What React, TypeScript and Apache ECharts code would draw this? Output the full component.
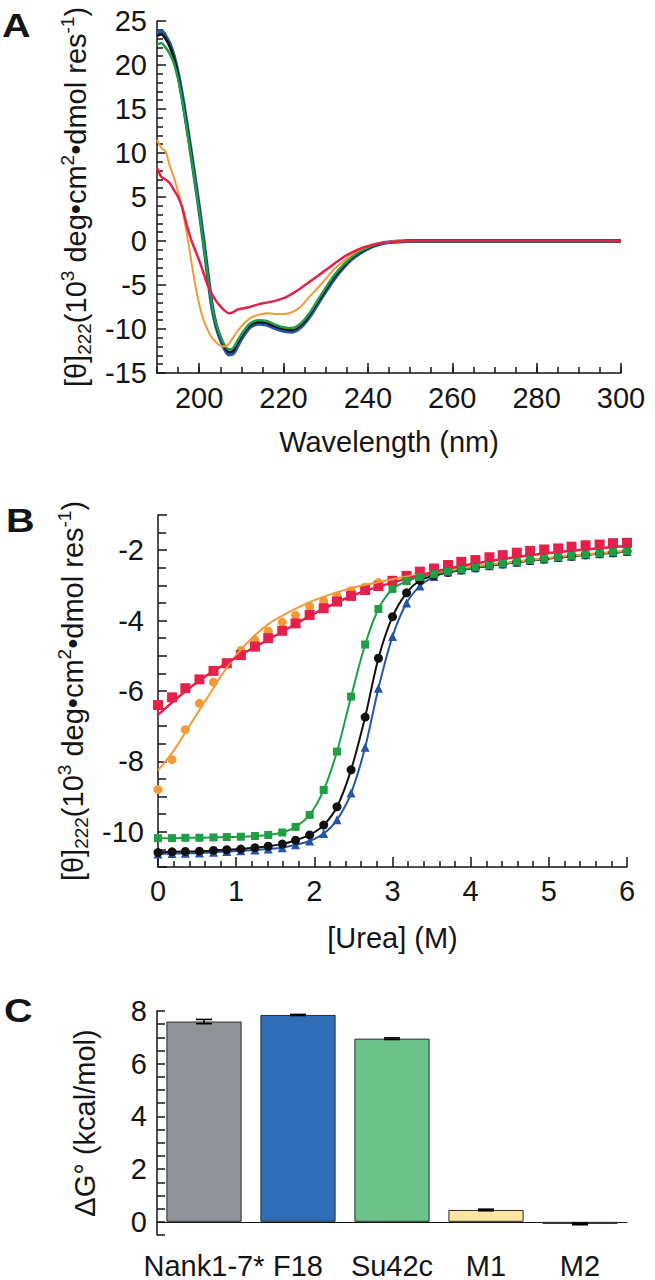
import React, { useEffect, useRef } from 'react';
import * as echarts from 'echarts';

const FONT = '"Liberation Sans", Arial, Helvetica, sans-serif';
const INK = '#151515';

// ---------- Panel A: CD spectra ----------
const wavelengthNm = [190, 191, 192, 193, 194, 195, 196, 197, 198, 199, 200, 201, 202, 203, 204, 205, 206, 207, 208, 209, 210, 212, 214, 216, 218, 220, 222, 224, 226, 228, 230, 232, 234, 236, 238, 240, 242, 244, 246, 248, 250, 260, 270, 280, 290, 300];
const cdBlue = [23.6, 23.9, 23.3, 22.4, 21.0, 19.0, 16.4, 13.4, 10.3, 7.0, 3.7, 0.1, -3.7, -7.3, -9.6, -11.1, -12.2, -12.9, -12.8, -12.0, -11.1, -9.8, -9.4, -9.5, -9.9, -10.2, -10.3, -9.8, -8.7, -7.2, -5.7, -4.3, -3.1, -2.1, -1.4, -0.85, -0.45, -0.2, -0.1, -0.05, 0, 0, 0, 0, 0, 0];
const cdBlack = [23.3, 23.5, 23.0, 22.1, 20.8, 18.8, 16.2, 13.3, 10.2, 6.9, 3.6, 0.0, -3.7, -7.2, -9.5, -10.9, -12.0, -12.6, -12.5, -11.7, -10.8, -9.6, -9.2, -9.3, -9.7, -10.0, -10.1, -9.6, -8.5, -7.0, -5.5, -4.1, -3.0, -2.0, -1.3, -0.8, -0.45, -0.2, -0.1, -0.05, 0, 0, 0, 0, 0, 0];
const cdGreen = [22.3, 22.5, 22.0, 21.3, 20.2, 18.4, 15.9, 13.0, 9.9, 6.7, 3.4, -0.2, -3.8, -7.2, -9.4, -10.8, -11.8, -12.3, -12.2, -11.4, -10.6, -9.4, -9.0, -9.1, -9.5, -9.8, -9.9, -9.4, -8.3, -6.8, -5.3, -3.9, -2.8, -1.9, -1.2, -0.75, -0.4, -0.2, -0.1, -0.05, 0, 0, 0, 0, 0, 0];
const cdOrange = [11.5, 10.6, 10.2, 8.6, 7.2, 5.6, 3.6, 1.0, -1.9, -4.8, -7.2, -8.9, -10.1, -11.0, -11.5, -11.9, -12.0, -11.7, -11.0, -10.3, -9.7, -8.8, -8.4, -8.2, -8.3, -8.3, -8.1, -7.5, -6.4, -5.4, -4.3, -3.2, -2.4, -1.6, -1.0, -0.6, -0.35, -0.15, -0.05, 0, 0, 0, 0, 0, 0, 0];
const cdRed = [8.3, 7.3, 7.0, 6.6, 5.8, 5.0, 3.8, 1.9, 0.3, -1.0, -2.2, -3.6, -5.0, -6.0, -6.8, -7.4, -7.9, -8.2, -8.1, -7.8, -7.7, -7.5, -7.2, -7.0, -6.8, -6.5, -6.0, -5.4, -4.7, -4.0, -3.3, -2.6, -1.9, -1.35, -0.9, -0.6, -0.35, -0.2, -0.1, -0.03, 0, 0, 0, 0, 0, 0];
const aXLabels = [200, 220, 240, 260, 280, 300];

// ---------- Panel B: urea denaturation ----------
const ureaM = [0, 0.18, 0.35, 0.53, 0.71, 0.88, 1.06, 1.24, 1.41, 1.59, 1.76, 1.94, 2.12, 2.29, 2.47, 2.65, 2.82, 3.0, 3.18, 3.35, 3.53, 3.71, 3.88, 4.06, 4.24, 4.41, 4.59, 4.76, 4.94, 5.12, 5.29, 5.47, 5.65, 5.82, 6.0];
const urRed = [-6.40, -6.18, -5.92, -5.67, -5.43, -5.21, -4.98, -4.74, -4.50, -4.29, -4.08, -3.84, -3.65, -3.46, -3.30, -3.13, -3.02, -2.87, -2.73, -2.61, -2.52, -2.42, -2.33, -2.28, -2.20, -2.14, -2.07, -2.02, -1.98, -1.95, -1.90, -1.86, -1.84, -1.80, -1.79];
const urOrange = [-8.80, -7.95, -7.10, -6.35, -5.75, -5.25, -4.85, -4.55, -4.30, -4.05, -3.85, -3.60, -3.45, -3.30, -3.15, -3.05, -2.92, -2.85, -2.80, -2.74, -2.67, -2.60, -2.53, -2.47, -2.41, -2.36, -2.31, -2.26, -2.22, -2.18, -2.14, -2.10, -2.07, -2.04, -2.01];
const urGreen = [-10.18, -10.18, -10.17, -10.17, -10.16, -10.15, -10.14, -10.12, -10.09, -10.02, -9.86, -9.52, -8.81, -7.72, -6.16, -4.68, -3.67, -3.10, -2.88, -2.76, -2.68, -2.61, -2.55, -2.49, -2.43, -2.38, -2.33, -2.28, -2.24, -2.20, -2.16, -2.12, -2.09, -2.06, -2.03];
const urBlack = [-10.59, -10.57, -10.56, -10.55, -10.53, -10.51, -10.49, -10.45, -10.41, -10.35, -10.24, -10.09, -9.81, -9.29, -8.24, -6.74, -5.07, -3.89, -3.21, -2.86, -2.72, -2.63, -2.56, -2.50, -2.44, -2.39, -2.34, -2.29, -2.25, -2.21, -2.17, -2.13, -2.10, -2.07, -2.04];
const urBlue = [-10.63, -10.62, -10.61, -10.60, -10.58, -10.56, -10.54, -10.52, -10.49, -10.45, -10.37, -10.26, -10.05, -9.66, -8.90, -7.60, -5.92, -4.45, -3.50, -3.02, -2.75, -2.62, -2.56, -2.50, -2.44, -2.39, -2.34, -2.29, -2.25, -2.21, -2.17, -2.13, -2.10, -2.07, -2.04];
const orangeFitUrea = [0, 0.2, 0.4, 0.6, 0.8, 1.0, 1.2, 1.4, 1.6, 1.8, 2.0, 2.4, 2.8, 3.2, 3.6, 4.0, 4.5, 5.0, 5.5, 6.0];
const orangeFit = [-8.25, -7.7, -7.0, -6.3, -5.6, -4.98, -4.5, -4.12, -3.85, -3.62, -3.42, -3.12, -2.92, -2.74, -2.6, -2.47, -2.34, -2.22, -2.11, -2.02];
const redFitUrea = [0, 0.5, 1, 1.5, 2, 2.5, 3, 3.5, 4, 4.5, 5, 5.5, 6];
const redFit = [-6.68, -5.75, -5.05, -4.43, -3.8, -3.28, -2.92, -2.63, -2.4, -2.22, -2.08, -1.97, -1.88];

// ---------- Panel C: stability ----------
const proteins = ['Nank1-7*', 'F18', 'Su42c', 'M1', 'M2'];
const dG = [7.6, 7.85, 6.95, 0.45, -0.08];
const dGErr = [0.08, 0.02, 0.03, 0.03, 0.03];
const barColors = ['#8f9297', '#2f6db6', '#6cc28b', '#fde5a2', '#c9736e'];

const C_BLUE = '#2356a8';
const C_BLACK = '#111111';
const C_GREEN = '#1f9e45';
const C_ORANGE = '#f29a38';
const C_RED = '#e5204b';

const FS = 29;
const tickLabel = { fontFamily: FONT, fontSize: FS, color: INK };
const axisLine = { show: true, onZero: false, lineStyle: { color: INK, width: 1.5 } };

const thetaName = '{t|[θ]}{sub|222}{t|(10}{sup|3}{t| deg•cm}{sup|2}{t|•dmol res}{sup|-1}{t|)}';
const thetaStyle = {
  fontFamily: FONT,
  fontSize: FS,
  color: INK,
  rich: {
    t: { fontFamily: FONT, fontSize: FS, lineHeight: 36, color: INK },
    sub: { fontFamily: FONT, fontSize: 19, lineHeight: 20, verticalAlign: 'bottom', color: INK },
    sup: { fontFamily: FONT, fontSize: 19, lineHeight: 20, verticalAlign: 'top', color: INK },
  },
};

function pairs(xs: number[], ys: number[]) {
  return xs.map((x, i) => [x, ys[i]]);
}

export default function App() {
  const ref = useRef<HTMLDivElement>(null);
  useEffect(() => {
    if (!ref.current) return;
    const chart = echarts.init(ref.current, null, { renderer: 'svg' });
    const cdLine = (name: string, ys: number[], color: string, width: number) => ({
      name,
      type: 'line',
      xAxisIndex: 0,
      yAxisIndex: 0,
      data: pairs(wavelengthNm, ys),
      showSymbol: false,
      smooth: 0.25,
      lineStyle: { color, width },
      itemStyle: { color },
    });
    const urSeries = (name: string, ys: number[], color: string, symbol: string, size: number) => ({
      name,
      type: 'line',
      xAxisIndex: 2,
      yAxisIndex: 1,
      data: pairs(ureaM, ys),
      symbol,
      symbolSize: size,
      smooth: 0.3,
      lineStyle: { color, width: 2 },
      itemStyle: { color },
    });
    const letter = (t: string, x: number, y: number) => ({
      type: 'text', x, y, scaleX: 1.2,
      style: { text: t, font: `bold 33px ${FONT}`, fill: INK },
    });
    const option: any = {
      animation: false,
      backgroundColor: '#ffffff',
      grid: [
        { left: 157, top: 21, width: 464, height: 352 },
        { left: 158, top: 515, width: 469, height: 352 },
        { left: 157, top: 1011, width: 470, height: 233 },
      ],
      xAxis: [
        {
          type: 'value', gridIndex: 0, min: 190, max: 300, interval: 5, position: 'bottom',
          axisLine,
          axisTick: { show: true, inside: true, length: 10, lineStyle: { color: INK, width: 1.5 }, customValues: aXLabels },
          axisLabel: { ...tickLabel, margin: 10, customValues: aXLabels },
          splitLine: { show: false },
          name: 'Wavelength (nm)', nameLocation: 'middle', nameGap: 54,
          nameTextStyle: { fontFamily: FONT, fontSize: FS, color: INK },
        },
        {
          type: 'value', gridIndex: 0, min: 190, max: 300, interval: 5, position: 'bottom',
          axisLine: { show: false, onZero: false },
          axisTick: { show: true, inside: true, length: 6, lineStyle: { color: INK, width: 1.5 } },
          axisLabel: { show: false },
          splitLine: { show: false },
        },
        {
          type: 'value', gridIndex: 1, min: 0, max: 6, interval: 1, position: 'bottom',
          axisLine,
          axisTick: { show: true, inside: true, length: 10, lineStyle: { color: INK, width: 1.5 } },
          minorTick: { show: true, splitNumber: 5, length: 6, lineStyle: { color: INK, width: 1.5 } },
          axisLabel: { ...tickLabel, margin: 9 },
          splitLine: { show: false },
          minorSplitLine: { show: false },
          name: '[Urea] (M)', nameLocation: 'middle', nameGap: 56,
          nameTextStyle: { fontFamily: FONT, fontSize: FS, color: INK },
        },
        {
          type: 'category', gridIndex: 2, data: proteins, position: 'bottom',
          axisLine: { show: true, onZero: true, lineStyle: { color: INK, width: 1.2 } },
          axisTick: { show: false },
          axisLabel: { ...tickLabel, margin: 16, interval: 0 },
          splitLine: { show: false },
        },
      ],
      yAxis: [
        {
          type: 'value', gridIndex: 0, min: -15, max: 25, interval: 5,
          axisLine,
          axisTick: { show: true, inside: true, length: 9, lineStyle: { color: INK, width: 1.5 } },
          minorTick: { show: true, splitNumber: 5, length: 6, lineStyle: { color: INK, width: 1.5 } },
          axisLabel: { ...tickLabel, margin: 10 },
          splitLine: { show: false },
          minorSplitLine: { show: false },
          name: thetaName, nameLocation: 'middle', nameRotate: 90, nameGap: 62,
          nameTextStyle: thetaStyle,
        },
        {
          type: 'value', gridIndex: 1, min: -11, max: -1, interval: 1,
          axisLine,
          axisTick: { show: true, inside: true, length: 9, lineStyle: { color: INK, width: 1.5 } },
          minorTick: { show: true, splitNumber: 2, length: 8, lineStyle: { color: INK, width: 1.5 } },
          axisLabel: { ...tickLabel, margin: 14, formatter: (v: number) => (v % 2 === 0 ? String(v) : '') },
          splitLine: { show: false },
          minorSplitLine: { show: false },
          name: thetaName, nameLocation: 'middle', nameRotate: 90, nameGap: 62,
          nameTextStyle: thetaStyle,
        },
        {
          type: 'value', gridIndex: 2, min: -0.5, max: 8, interval: 0.5,
          axisLine,
          axisTick: { show: true, inside: true, length: 8, lineStyle: { color: INK, width: 1.5 } },
          axisLabel: {
            ...tickLabel, margin: 10,
            formatter: (v: number) => (v >= 0 && Math.abs(v % 2) < 1e-9 ? String(v) : ''),
          },
          splitLine: { show: false },
          name: 'ΔG° (kcal/mol)', nameLocation: 'middle', nameRotate: 90, nameGap: 58,
          nameTextStyle: { fontFamily: FONT, fontSize: FS, color: INK },
        },
      ],
      graphic: [
        letter('A', 2, 9),
        letter('B', 6, 504),
        letter('C', 4, 994),
      ],
      series: [
        cdLine('Blue', cdBlue, C_BLUE, 4),
        cdLine('Black', cdBlack, C_BLACK, 2.5),
        cdLine('Green', cdGreen, C_GREEN, 2.5),
        cdLine('Orange', cdOrange, C_ORANGE, 2),
        cdLine('Red', cdRed, C_RED, 2.5),

        urSeries('F18', urBlue, C_BLUE, 'triangle', 9),
        urSeries('Nank1-7*', urBlack, C_BLACK, 'circle', 9),
        urSeries('Su42c', urGreen, C_GREEN, 'rect', 8),
        {
          name: 'M1 fit', type: 'line', xAxisIndex: 2, yAxisIndex: 1,
          data: pairs(orangeFitUrea, orangeFit), showSymbol: false, smooth: 0.4,
          lineStyle: { color: C_ORANGE, width: 2 },
        },
        {
          name: 'M1', type: 'scatter', xAxisIndex: 2, yAxisIndex: 1,
          data: pairs(ureaM, urOrange), symbol: 'circle', symbolSize: 9,
          itemStyle: { color: C_ORANGE, opacity: 1 },
        },
        {
          name: 'M2 fit', type: 'line', xAxisIndex: 2, yAxisIndex: 1,
          data: pairs(redFitUrea, redFit), showSymbol: false, smooth: 0.4,
          lineStyle: { color: C_RED, width: 2.5 },
        },
        {
          name: 'M2', type: 'scatter', xAxisIndex: 2, yAxisIndex: 1,
          data: pairs(ureaM, urRed), symbol: 'rect', symbolSize: 10,
          itemStyle: { color: C_RED, opacity: 1 },
        },

        {
          name: 'dG', type: 'bar', xAxisIndex: 3, yAxisIndex: 2, barWidth: '80%',
          data: dG.map((v, i) => ({ value: v, itemStyle: { color: barColors[i], borderColor: '#2a2a2a', borderWidth: 1 } })),
        },
        {
          name: 'dG err', type: 'custom', xAxisIndex: 3, yAxisIndex: 2, z: 5,
          data: dG.map((v, i) => [i, v - dGErr[i], v + dGErr[i]]),
          renderItem: (params: any, api: any) => {
            const top = api.coord([api.value(0), api.value(2)]);
            const bot = api.coord([api.value(0), api.value(1)]);
            const w = 8;
            const st = { stroke: '#000', lineWidth: 1.6 };
            return {
              type: 'group',
              children: [
                { type: 'line', shape: { x1: top[0], y1: top[1], x2: bot[0], y2: bot[1] }, style: st },
                { type: 'line', shape: { x1: top[0] - w, y1: top[1], x2: top[0] + w, y2: top[1] }, style: st },
                { type: 'line', shape: { x1: bot[0] - w, y1: bot[1], x2: bot[0] + w, y2: bot[1] }, style: st },
              ],
            };
          },
        },
      ],
    };
    chart.setOption(option);
    return () => chart.dispose();
  }, []);
  return <div ref={ref} style={{ position: 'absolute', left: 0, top: 0, width: 655, height: 1280 }} />;
}
